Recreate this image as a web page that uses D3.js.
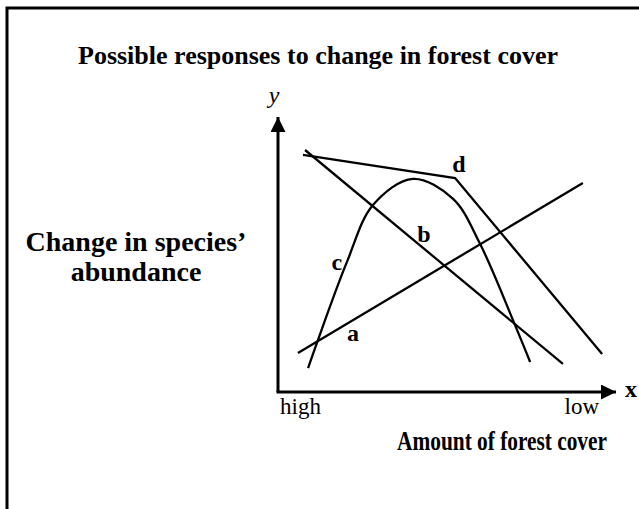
<!DOCTYPE html>
<html>
<head>
<meta charset="utf-8">
<script src="https://cdn.jsdelivr.net/npm/d3@7"></script>
<style>
  body { margin: 0; background: #fff; }
  svg text { font-family: "Liberation Serif", "Times New Roman", serif; fill: #000; }
</style>
</head>
<body>
<div id="chart"></div>
<script>
// response curves, x = 0 (high forest cover) .. 100 (low), y = 0 .. 100 (change in abundance)
const lineA = [[5.9, 14.2], [90.2, 76.0]];
const lineB = [[8.0, 88.0], [84.3, 10.2]];
const lineC = [[8.9, 8.7], [11.5, 17.8], [20.4, 47.3], [28.1, 68.0], [39.9, 77.5],
  [51.8, 70.2], [59.8, 53.8], [70.1, 24.4], [74.6, 10.9]];
const lineD = [[7.4, 86.2], [52.4, 77.8], [95.9, 13.8]];

const curveLabels = ["a", "b", "c", "d"];
const labelPos = [[22.2, 21.5], [43.2, 57.5], [17.4, 47.3], [53.5, 83.0]];

const xTickLabels = ["high", "low"];

const width = 639, height = 509;
const svg = d3.select("#chart").append("svg").attr("width", width).attr("height", height);

// frame (only top and left edges visible)
svg.append("path")
  .attr("d", "M7,520 L7,8 L650,8")
  .attr("fill", "none").attr("stroke", "#000").attr("stroke-width", 3);

const x = d3.scaleLinear().domain([0, 100]).range([278, 616]);
const y = d3.scaleLinear().domain([0, 100]).range([392, 117]);

svg.append("text").attr("x", 318).attr("y", 64).attr("text-anchor", "middle")
  .attr("font-size", 26).attr("font-weight", "bold")
  .text("Possible responses to change in forest cover");

// axes with arrow heads
svg.append("defs").append("marker")
  .attr("id", "arrow").attr("viewBox", "0 0 10 10").attr("refX", 10).attr("refY", 5)
  .attr("markerWidth", 5).attr("markerHeight", 5).attr("markerUnits", "strokeWidth")
  .attr("orient", "auto")
  .append("path").attr("d", "M0,0 L10,5 L0,10 Z").attr("fill", "#000");

svg.append("line").attr("x1", x(0)).attr("y1", y(0)).attr("x2", x(0)).attr("y2", y(100))
  .attr("stroke", "#000").attr("stroke-width", 3).attr("marker-end", "url(#arrow)");
svg.append("line").attr("x1", x(0) - 1.5).attr("y1", y(0)).attr("x2", x(100)).attr("y2", y(0))
  .attr("stroke", "#000").attr("stroke-width", 3).attr("marker-end", "url(#arrow)");

svg.append("text").attr("x", x(0) - 4).attr("y", y(100) - 14).attr("text-anchor", "middle")
  .attr("font-size", 24).attr("font-style", "italic").text("y");
svg.append("text").attr("x", x(100) + 15).attr("y", y(0) + 5).attr("text-anchor", "middle")
  .attr("font-size", 24).attr("font-weight", "bold").text("x");

svg.append("text").attr("x", x(0) + 2).attr("y", y(0) + 22)
  .attr("font-size", 23).text(xTickLabels[0]);
svg.append("text").attr("x", x(95)).attr("y", y(0) + 22).attr("text-anchor", "end")
  .attr("font-size", 23).text(xTickLabels[1]);

// condensed bold axis title
svg.append("text").attr("transform", "translate(502,450) scale(0.79,1)")
  .attr("text-anchor", "middle")
  .attr("font-size", 27).attr("font-weight", "bold")
  .text("Amount of forest cover");

const yLab = svg.append("text").attr("text-anchor", "middle")
  .attr("font-size", 28).attr("font-weight", "bold");
yLab.append("tspan").attr("x", 136).attr("y", 251).text("Change in species\u2019");
yLab.append("tspan").attr("x", 136).attr("y", 281).text("abundance");

const straight = d3.line().x(d => x(d[0])).y(d => y(d[1]));
const smooth = d3.line().x(d => x(d[0])).y(d => y(d[1])).curve(d3.curveCatmullRom.alpha(0.5));

[[lineA, straight], [lineB, straight], [lineC, smooth], [lineD, straight]].forEach(([pts, gen]) => {
  svg.append("path").attr("d", gen(pts))
    .attr("fill", "none").attr("stroke", "#000").attr("stroke-width", 2.3);
});

svg.selectAll(".lbl").data(curveLabels).join("text")
  .attr("class", "lbl")
  .attr("x", (d, i) => x(labelPos[i][0]))
  .attr("y", (d, i) => y(labelPos[i][1]) + 8)
  .attr("text-anchor", "middle")
  .attr("font-size", 24).attr("font-weight", "bold")
  .text(d => d);
</script>
</body>
</html>
